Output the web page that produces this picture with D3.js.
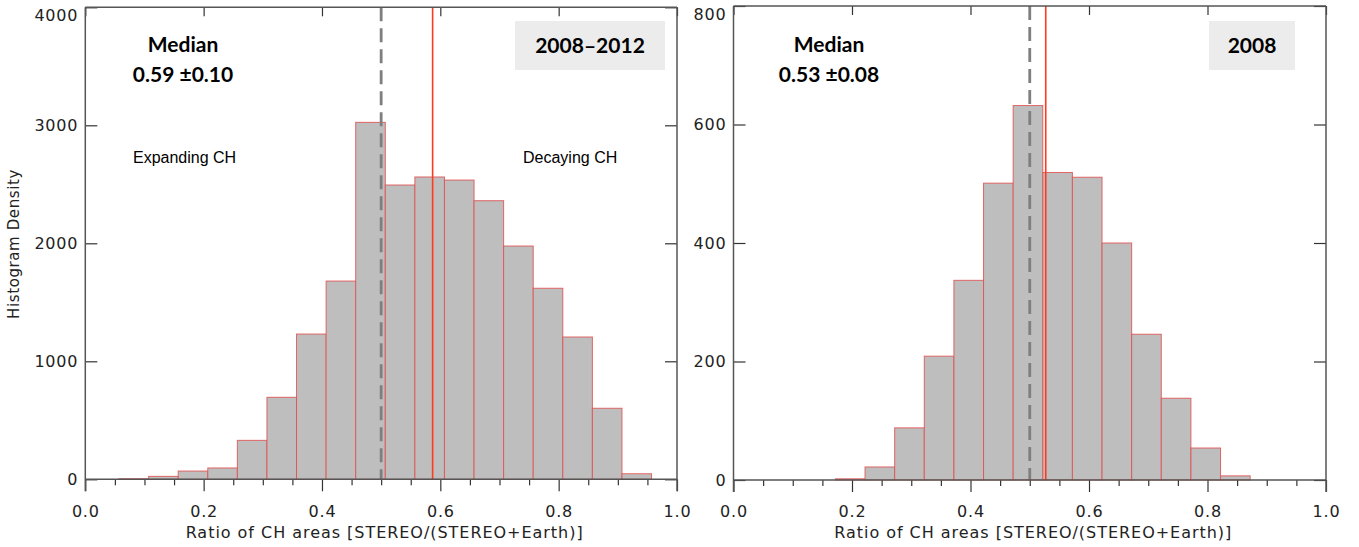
<!DOCTYPE html>
<html>
<head>
<meta charset="utf-8">
<script src="https://cdn.jsdelivr.net/npm/d3@7"></script>
<style>
  body { margin: 0; background: #fff; }
  svg { display: block; }
</style>
</head>
<body>
<div id="chart"></div>
<script>
// histogram bins (lower edges), width 0.05
const binWidth = 0.05;
const allBins = [0.057, 0.107, 0.157, 0.207, 0.257, 0.307, 0.357, 0.407, 0.457,
  0.507, 0.557, 0.607, 0.657, 0.707, 0.757, 0.807, 0.857, 0.907];
const allCounts = [5, 25, 70, 96, 330, 695, 1231, 1680, 3025,
  2494, 2562, 2536, 2361, 1977, 1619, 1206, 602, 47];

const yearBins = [0.172, 0.222, 0.272, 0.322, 0.372, 0.422, 0.472,
  0.522, 0.572, 0.622, 0.672, 0.722, 0.772, 0.822];
const yearCounts = [2, 22, 88, 209, 337, 501, 632, 519, 511, 400, 246, 138, 54, 7];

const xMajor = [0, 0.2, 0.4, 0.6, 0.8, 1.0];
const xMinor = [0.05, 0.1, 0.15, 0.25, 0.3, 0.35, 0.45, 0.5, 0.55, 0.65, 0.7, 0.75, 0.85, 0.9, 0.95];
const allYTicks = [0, 1000, 2000, 3000, 4000];
const yearYTicks = [0, 200, 400, 600, 800];

const panels = [
  {
    bins: allBins, counts: allCounts, yTicks: allYTicks, yMax: 4000,
    median: 0.587, medianText: "0.59 ±0.10", period: "2008–2012",
    xr: [85.3, 677], yr: [479.3, 7.3],
    boxX: 515, boxW: 150, medianX: 183, showNotes: true
  },
  {
    bins: yearBins, counts: yearCounts, yTicks: yearYTicks, yMax: 800,
    median: 0.527, medianText: "0.53 ±0.08", period: "2008",
    xr: [733.5, 1326], yr: [480, 6],
    boxX: 1209, boxW: 86, medianX: 829, showNotes: false
  }
];

const width = 1359, height = 547;
const svg = d3.select("#chart").append("svg")
  .attr("width", width).attr("height", height);

const tickFont = "'DejaVu Sans', sans-serif";
const boldFont = "Lato, 'Open Sans', sans-serif";

panels.forEach((p) => {
  const x = d3.scaleLinear().domain([0, 1]).range(p.xr);
  const y = d3.scaleLinear().domain([0, p.yMax]).range(p.yr);
  const g = svg.append("g");
  const y0 = y(0), yTop = y(p.yMax);

  // bars
  g.selectAll("rect.bar")
    .data(p.bins.map((b, i) => ({ lo: b, n: p.counts[i] })))
    .join("rect")
    .attr("class", "bar")
    .attr("x", (d) => x(d.lo))
    .attr("width", (d) => x(d.lo + binWidth) - x(d.lo))
    .attr("y", (d) => y(d.n))
    .attr("height", (d) => y0 - y(d.n))
    .attr("fill", "#bebebe")
    .attr("stroke", "#e05050")
    .attr("stroke-opacity", 0.85)
    .attr("stroke-width", 1);

  // reference line at 0.5 and median
  g.append("line")
    .attr("x1", x(0.5)).attr("x2", x(0.5))
    .attr("y1", yTop).attr("y2", y0)
    .attr("stroke", "#7f7f7f")
    .attr("stroke-width", 2.8)
    .attr("stroke-dasharray", "14,7");
  g.append("line")
    .attr("x1", x(p.median)).attr("x2", x(p.median))
    .attr("y1", yTop).attr("y2", y0)
    .attr("stroke", "#ff3b1f")
    .attr("stroke-width", 1.6);

  // bottom axis: majors with labels, minors without
  const bottom = g.append("g").attr("transform", `translate(0,${y0})`)
    .call(d3.axisBottom(x).tickValues(xMajor).tickSize(12).tickPadding(14)
      .tickFormat(d3.format(".1f")));
  bottom.append("g")
    .call(d3.axisBottom(x).tickValues(xMinor).tickSize(6).tickFormat(""));

  g.append("g").attr("transform", `translate(0,${yTop})`)
    .call(d3.axisBottom(x).tickValues(xMajor).tickSize(9).tickFormat(""));

  const left = g.append("g").attr("transform", `translate(${p.xr[0]},0)`)
    .call(d3.axisLeft(y).tickValues(p.yTicks).tickSize(-12).tickPadding(7)
      .tickFormat(d3.format("d")));
  left.selectAll(".tick text").attr("y", (d) => (d === p.yMax ? 8 : 0));

  g.append("g").attr("transform", `translate(${p.xr[1]},0)`)
    .call(d3.axisRight(y).tickValues(p.yTicks).tickSize(-12).tickFormat(""));

  g.selectAll(".domain").remove();
  g.selectAll(".tick line").attr("stroke", "#333").attr("stroke-width", 1.2);
  g.selectAll(".tick text")
    .style("font-family", tickFont)
    .style("font-size", "16px")
    .style("letter-spacing", "0.8px")
    .attr("fill", "#222");

  // frame
  const frame = [
    [p.xr[0], yTop, p.xr[1], yTop],
    [p.xr[0], y0, p.xr[1], y0],
    [p.xr[0], yTop, p.xr[0], y0 + 12],
    [p.xr[1], yTop, p.xr[1], y0 + 12]
  ];
  g.selectAll("line.frame").data(frame).join("line")
    .attr("class", "frame")
    .attr("x1", (d) => d[0]).attr("y1", (d) => d[1])
    .attr("x2", (d) => d[2]).attr("y2", (d) => d[3])
    .attr("stroke", "#555").attr("stroke-width", 1.5);

  // x label
  g.append("text")
    .attr("x", (p.xr[0] + p.xr[1]) / 2 + 3)
    .attr("y", 538)
    .attr("text-anchor", "middle")
    .attr("textLength", 397)
    .attr("lengthAdjust", "spacing")
    .style("font-family", tickFont)
    .style("font-size", "16px")
    .attr("fill", "#222")
    .text("Ratio of CH areas [STEREO/(STEREO+Earth)]");

  // median annotation
  g.append("text")
    .attr("x", p.medianX).attr("y", 52)
    .attr("text-anchor", "middle")
    .style("font-family", boldFont).style("font-weight", "bold")
    .style("font-size", "21px")
    .text("Median");
  g.append("text")
    .attr("x", p.medianX).attr("y", 82)
    .attr("text-anchor", "middle")
    .style("font-family", boldFont).style("font-weight", "bold")
    .style("font-size", "21px")
    .text(p.medianText);

  // period box
  g.append("rect")
    .attr("x", p.boxX).attr("y", 21)
    .attr("width", p.boxW).attr("height", 49)
    .attr("fill", "#ececec");
  g.append("text")
    .attr("x", p.boxX + p.boxW / 2).attr("y", 53)
    .attr("text-anchor", "middle")
    .style("font-family", boldFont).style("font-weight", "bold")
    .style("font-size", "21px")
    .text(p.period);

  if (p.showNotes) {
    g.append("text")
      .attr("x", 133).attr("y", 163)
      .style("font-family", "'Liberation Sans', Arial, sans-serif")
      .style("font-size", "16px")
      .text("Expanding CH");
    g.append("text")
      .attr("x", 523).attr("y", 163)
      .style("font-family", "'Liberation Sans', Arial, sans-serif")
      .style("font-size", "16px")
      .text("Decaying CH");
  }
});

// y label
svg.append("text")
  .attr("transform", "translate(19,244) rotate(-90)")
  .attr("text-anchor", "middle")
  .style("font-family", tickFont)
  .style("font-size", "15px")
  .style("letter-spacing", "0.6px")
  .attr("fill", "#222")
  .text("Histogram Density");
</script>
</body>
</html>
